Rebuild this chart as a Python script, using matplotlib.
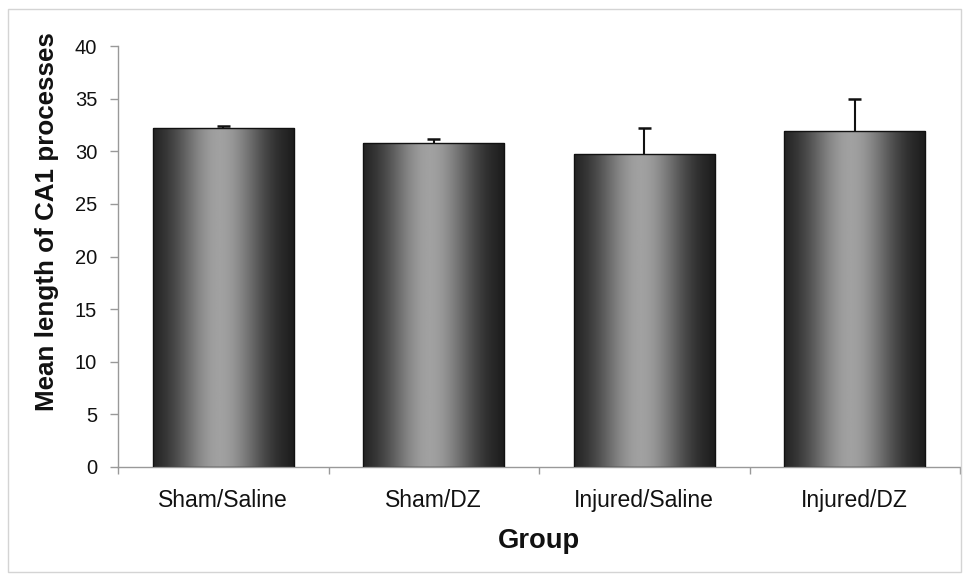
import numpy as np
import matplotlib
matplotlib.use("Agg")
import matplotlib.pyplot as plt
from matplotlib.patches import Rectangle

categories = ["Sham/Saline", "Sham/DZ", "Injured/Saline", "Injured/DZ"]
means = [32.2, 30.8, 29.7, 31.9]
errors = [0.2, 0.35, 2.5, 3.1]
yticks = [0, 5, 10, 15, 20, 25, 30, 35, 40]

plt.rcParams["font.family"] = ["Liberation Sans", "DejaVu Sans"]

W, H = 969, 581
fig = plt.figure(figsize=(W / 100, H / 100), dpi=100)
ax = fig.add_axes([118 / W, 1 - 467 / H, (960 - 118) / W, (467 - 46) / H])

x = np.arange(len(categories))
m = np.array(means)
e = np.array(errors)
bars = ax.bar(x, m, width=0.67, color="none", edgecolor="#111111",
              linewidth=1.0, zorder=3)
# upper-only error bars
ax.vlines(x, m, m + e, colors="#111111", linewidth=1.5, zorder=4)
ax.hlines(m + e, x - 0.03, x + 0.03, colors="#111111", linewidth=1.8, zorder=4)

# horizontal gradient: dark edges, light centre
t = np.linspace(0, 1, 256)
prof = np.exp(-((t - 0.47) / 0.32) ** 2)
shade = 0.08 + 0.55 * prof
grad = np.tile(shade, (2, 1))
for b in bars:
    x0, y0 = b.get_x(), b.get_y()
    w, h = b.get_width(), b.get_height()
    im = ax.imshow(grad, cmap="gray", vmin=0, vmax=1, aspect="auto",
                   extent=[x0, x0 + w, y0, y0 + h], zorder=2, interpolation="bilinear")
    im.set_clip_path(b)

ax.set_xlim(-0.5, 3.5)
ax.set_ylim(0, 40)
ax.set_yticks(yticks)
ax.set_xticks(x)
ax.set_xticklabels(categories)
ax.set_xticks(np.arange(-0.5, 4.0, 1.0), minor=True)
ax.tick_params(axis="x", which="major", length=0, labelsize=16.5, pad=16,
               labelcolor="#111111")
ax.tick_params(axis="x", which="minor", length=5, color="#999999", width=1)
ax.tick_params(axis="y", length=6, color="#999999", width=1, labelsize=14.5,
               pad=9, labelcolor="#111111")
for s in ["top", "right"]:
    ax.spines[s].set_visible(False)
for s in ["left", "bottom"]:
    ax.spines[s].set_color("#999999")
    ax.spines[s].set_linewidth(1)

fig.text(47 / W, 1 - 222 / H, "Mean length of CA1 processes", rotation=90,
         ha="center", va="center", fontsize=18.7, fontweight="bold", color="#111111")
fig.text(539 / W, 1 - 548 / H, "Group", ha="center", va="baseline",
         fontsize=19.7, fontweight="bold", color="#111111")

fig.patches.append(Rectangle((8 / W, 1 - 572 / H), (961 - 8) / W, (572 - 9) / H,
                             transform=fig.transFigure, fill=False,
                             edgecolor="#d4d4d4", linewidth=1))

fig.savefig("out.png", dpi=100)
